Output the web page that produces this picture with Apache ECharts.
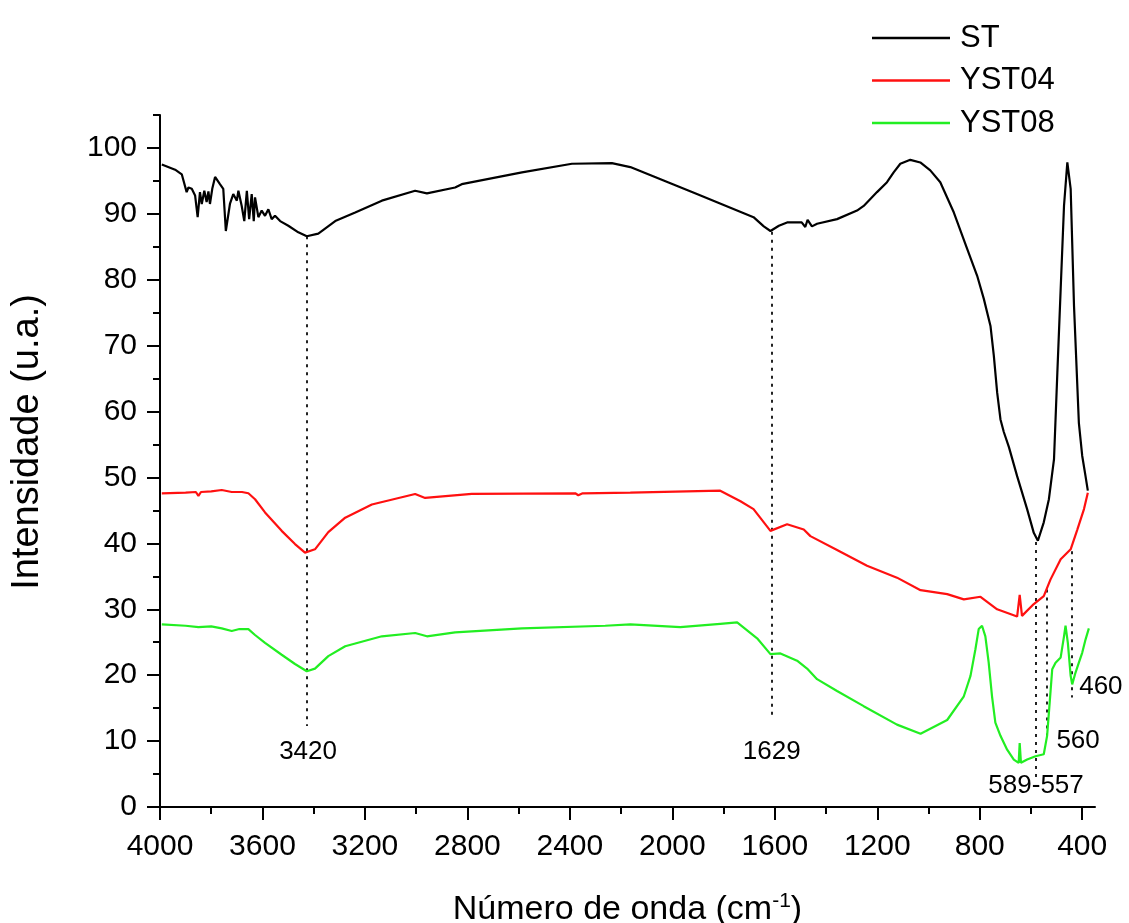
<!DOCTYPE html>
<html><head><meta charset="utf-8">
<script src="https://cdn.jsdelivr.net/npm/echarts@6/dist/echarts.min.js"></script>
<style>html,body{margin:0;padding:0;background:#fff}#c{width:1129px;height:923px}</style>
</head><body><div id="c"></div>
<script>
const FONT = '"Liberation Sans", Arial, sans-serif';
const seriesNames = ['ST', 'YST04', 'YST08'];
const seriesColors = ['#000000', '#ff1010', '#22ee22'];

const stData = [
  [3993, 97.5], [3941, 96.7], [3915, 96.0], [3896, 93.3], [3889, 94.0], [3876, 93.8], [3863, 92.8],
  [3853, 89.5], [3844, 93.3], [3837, 91.5], [3827, 93.5], [3818, 91.8], [3811, 93.4], [3805, 91.5],
  [3796, 93.8], [3785, 95.6], [3766, 94.5], [3753, 93.8], [3743, 87.4], [3727, 91.5], [3714, 93.0],
  [3700, 92.0], [3694, 93.5], [3681, 91.2], [3671, 88.9], [3661, 93.5], [3652, 89.2], [3642, 93.0],
  [3634, 88.9], [3629, 92.5], [3616, 89.5], [3603, 90.5], [3590, 89.7], [3577, 90.7], [3564, 89.2],
  [3551, 89.7], [3531, 88.9], [3499, 88.2], [3460, 87.2], [3427, 86.6], [3382, 87.0], [3316, 88.9],
  [3238, 90.2], [3134, 92.0], [3004, 93.5], [2958, 93.1], [2848, 94.0], [2822, 94.5], [2587, 96.3],
  [2392, 97.6], [2236, 97.7], [2164, 97.1], [1904, 93.0], [1683, 89.5], [1643, 88.1], [1617, 87.4],
  [1584, 88.2], [1552, 88.7], [1495, 88.7], [1481, 88.0], [1472, 89.1], [1455, 88.1], [1435, 88.5],
  [1357, 89.2], [1279, 90.5], [1253, 91.2], [1201, 93.3], [1162, 94.8], [1136, 96.3], [1110, 97.6],
  [1071, 98.2], [1032, 97.8], [993, 96.6], [954, 94.8], [901, 90.2], [849, 84.7], [810, 80.6],
  [784, 77.1], [758, 73.0], [745, 68.5], [732, 62.9], [719, 58.8], [706, 56.9], [686, 54.6],
  [654, 50.2], [615, 45.2], [589, 41.6], [573, 40.4], [550, 43.2], [530, 46.7], [510, 52.8],
  [497, 65.9], [484, 78.6], [471, 91.2], [458, 97.8], [445, 93.8], [432, 76.1], [413, 58.3],
  [400, 53.3], [387, 50.2], [378, 48.0]
];

const yst04Data = [
  [3993, 47.6], [3900, 47.7], [3860, 47.8], [3850, 47.2], [3840, 47.8], [3800, 47.9], [3759, 48.1],
  [3720, 47.8], [3680, 47.8], [3655, 47.6], [3629, 46.7], [3590, 44.7], [3525, 41.9], [3473, 39.9],
  [3434, 38.6], [3395, 39.1], [3343, 41.7], [3277, 43.9], [3173, 45.9], [3004, 47.5], [2965, 46.9],
  [2783, 47.5], [2379, 47.6], [2367, 47.3], [2350, 47.6], [2164, 47.7], [1813, 48.0], [1734, 46.4],
  [1683, 45.2], [1617, 41.9], [1552, 42.9], [1487, 42.1], [1461, 41.1], [1357, 39.0], [1240, 36.6],
  [1123, 34.8], [1031, 32.9], [927, 32.3], [862, 31.5], [797, 31.9], [732, 30.0], [654, 28.9],
  [644, 32.2], [635, 29.0], [589, 30.8], [550, 32.0], [524, 34.5], [484, 37.6], [445, 39.1],
  [419, 42.1], [393, 45.2], [378, 47.7]
];

const yst08Data = [
  [3993, 27.7], [3900, 27.5], [3850, 27.3], [3800, 27.4], [3759, 27.1], [3720, 26.7], [3690, 27.0],
  [3655, 27.0], [3629, 26.1], [3590, 24.9], [3525, 23.1], [3473, 21.7], [3427, 20.6], [3395, 21.0],
  [3343, 22.9], [3277, 24.4], [3134, 25.9], [3004, 26.4], [2958, 25.9], [2848, 26.5], [2841, 26.8],
  [2587, 27.1], [2262, 27.5], [2164, 27.7], [1969, 27.3], [1813, 27.8], [1747, 28.0], [1669, 25.6],
  [1617, 23.2], [1578, 23.3], [1513, 22.2], [1474, 21.0], [1435, 19.4], [1357, 17.6], [1253, 15.3],
  [1123, 12.5], [1031, 11.1], [927, 13.2], [862, 16.8], [836, 19.9], [817, 23.9], [804, 27.0],
  [791, 27.5], [778, 25.9], [765, 21.9], [752, 16.8], [739, 12.8], [719, 10.8], [693, 8.7],
  [667, 7.2], [648, 6.7], [644, 9.7], [639, 6.7], [615, 7.2], [582, 7.7], [550, 8.0], [537, 10.8],
  [527, 15.8], [517, 20.9], [504, 21.9], [484, 22.7], [471, 25.9], [465, 27.5], [456, 24.9],
  [445, 19.9], [439, 18.6], [426, 20.4], [413, 21.9], [400, 23.4], [387, 25.4], [374, 27.1]
];

// dotted guide lines: [wavenumber, top value, bottom value]
const guideLines = [
  [3427, 86.6, 12.3],
  [1613, 87.3, 13.3],
  [582, 40.2, 4.5],
  [537, 33.0, 10.6],
  [439, 38.8, 16.6]
];
// peak labels: [wavenumber, value, text]
const peakLabels = [
  [3422, 8.4, '3420'],
  [1612, 8.4, '1629'],
  [580, 3.2, '589-557'],
  [416, 10.0, '560'],
  [327, 18.2, '460']
];

const xMajorTicks = [400, 800, 1200, 1600, 2000, 2400, 2800, 3200, 3600, 4000];
const xMinorTicks = [600, 1000, 1400, 1800, 2200, 2600, 3000, 3400, 3800];
const yMajorTicks = [0, 10, 20, 30, 40, 50, 60, 70, 80, 90, 100];
const yMinorTicks = [5, 15, 25, 35, 45, 55, 65, 75, 85, 95, 105];

const xTitle = '{a|Número de onda (cm}{s|-1}{a|)}';
const yTitle = 'Intensidade (u.a.)';

const chart = echarts.init(document.getElementById('c'), null, {renderer: 'canvas'});
const axisCommon = {
  splitLine: {show: false},
  axisLine: {lineStyle: {color: '#000', width: 2}}
};
const tickStyle = {color: '#000', width: 2};
const curves = [stData, yst04Data, yst08Data];

const option = {
  backgroundColor: '#ffffff',
  animation: false,
  grid: {left: 160, right: 34, top: 115, bottom: 116, containLabel: false, outerBoundsMode: 'none'},
  legend: {
    orient: 'vertical', left: 867, top: 17, itemWidth: 78, itemHeight: 2.5, itemGap: 10.5,
    icon: 'rect', data: seriesNames,
    textStyle: {fontFamily: FONT, fontSize: 31, color: '#000', lineHeight: 32, padding: [0, 0, 0, 5]}
  },
  xAxis: [
    Object.assign({}, axisCommon, {
      type: 'value', inverse: true, min: 350, max: 4000, position: 'bottom',
      axisTick: {customValues: xMajorTicks, length: 13, lineStyle: tickStyle},
      axisLabel: {customValues: xMajorTicks, margin: 25, fontSize: 30, color: '#000', fontFamily: FONT,
        formatter: v => String(v)},
      name: xTitle, nameLocation: 'middle', nameGap: 84,
      nameTextStyle: {
        rich: {
          a: {fontFamily: FONT, fontSize: 34, color: '#000', lineHeight: 38},
          s: {fontFamily: FONT, fontSize: 21, color: '#000', verticalAlign: 'top', lineHeight: 20}
        }
      }
    }),
    {
      type: 'value', inverse: true, min: 350, max: 4000, position: 'bottom',
      axisLine: {show: false}, splitLine: {show: false}, axisLabel: {show: false},
      axisTick: {customValues: xMinorTicks, length: 7, lineStyle: tickStyle}
    }
  ],
  yAxis: [
    Object.assign({}, axisCommon, {
      type: 'value', min: 0, max: 105, position: 'left',
      axisTick: {customValues: yMajorTicks, length: 13, lineStyle: tickStyle},
      axisLabel: {customValues: yMajorTicks, margin: 23, fontSize: 30, color: '#000', fontFamily: FONT},
      name: yTitle, nameLocation: 'middle', nameGap: 113,
      nameTextStyle: {fontFamily: FONT, fontSize: 38, color: '#000', padding: [0, 0, 0, 38]}
    }),
    {
      type: 'value', min: 0, max: 105, position: 'left',
      axisLine: {show: false}, splitLine: {show: false}, axisLabel: {show: false},
      axisTick: {customValues: yMinorTicks, length: 7, lineStyle: tickStyle}
    }
  ],
  series: seriesNames.map((n, i) => ({
    name: n, type: 'line', data: curves[i], showSymbol: false, symbol: 'none',
    lineStyle: {color: seriesColors[i], width: 2.2}, itemStyle: {color: seriesColors[i]},
    z: 3 - i
  })).concat([
    {
      name: 'guides', type: 'lines', coordinateSystem: 'cartesian2d', z: 1,
      data: guideLines.map(g => ({coords: [[g[0], g[1]], [g[0], g[2]]]})),
      lineStyle: {color: '#222', width: 2, type: [3, 5], opacity: 1}
    },
    {
      name: 'labels', type: 'scatter', clip: false, symbolSize: 0,
      itemStyle: {color: '#000', opacity: 1},
      data: peakLabels,
      label: {
        show: true, position: 'inside', formatter: p => p.value[2],
        fontFamily: FONT, fontSize: 26, color: '#000', textBorderWidth: 0, opacity: 1,
        align: 'center', verticalAlign: 'middle'
      }
    }
  ])
};
chart.setOption(option);
</script>
</body></html>
